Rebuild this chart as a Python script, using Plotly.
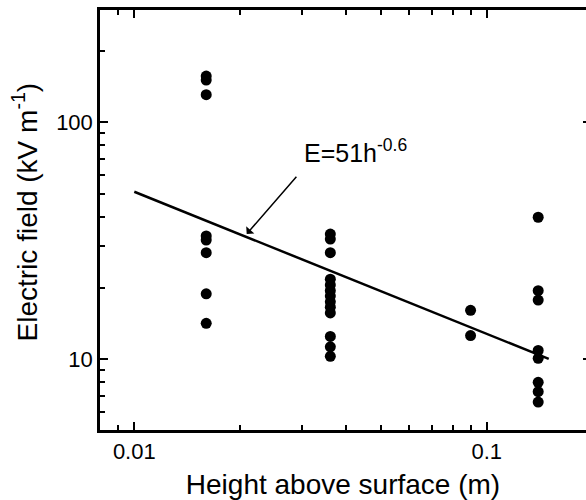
import numpy as np
import plotly.graph_objects as go

# Measured electric field at four heights above the surface
h_a = [0.016] * 8
E_a = [157, 151, 131, 33.2, 31.9, 28.2, 18.9, 14.2]
h_b = [0.036] * 13
E_b = [33.8, 32.2, 28.2, 21.8, 20.6, 19.5, 18.5, 17.5, 16.6, 15.7, 12.5, 11.3, 10.3]
h_c = [0.09] * 2
E_c = [16.1, 12.6]
h_d = [0.14] * 8
E_d = [39.8, 19.5, 17.8, 10.9, 10.1, 8.0, 7.3, 6.6]

# Power-law fit E = 51 h^-0.6 (h in cm), drawn over 0.01-0.15 m
fit_coef = 51
fit_exp = -0.6
fit_h = [0.01, 0.15]

x_ticks = [0.01, 0.1]
x_ticktext = ["0.01", "0.1"]
x_minor = [0.009] + [k / 100 for k in range(2, 10)] + [0.2]
y_ticks = [10, 100]
y_ticktext = ["10", "100"]
y_minor = [k for k in range(2, 10)] + [k * 10 for k in range(2, 10)] + [200, 300]

h_all = h_a + h_b + h_c + h_d
E_all = E_a + E_b + E_c + E_d

fit_E = [fit_coef * (100 * h) ** fit_exp for h in fit_h]

font = "Liberation Sans, Arial, sans-serif"

# Axis ranges (log10 units); the right end of the x axis runs past the page edge
x_range = [-2.0973, -0.7182]
y_range = [0.7017, 2.4748]

fig = go.Figure()
fig.add_trace(go.Scatter(
    x=fit_h, y=fit_E, mode="lines",
    line=dict(color="black", width=2.5), showlegend=False,
))
fig.add_trace(go.Scatter(
    x=h_all, y=E_all, mode="markers",
    marker=dict(color="black", size=11, line=dict(width=0)), showlegend=False,
))

tick_font = dict(family=font, size=22, color="black")
title_font = dict(family=font, size=28, color="black")

fig.update_xaxes(
    type="log", range=x_range, showgrid=False, zeroline=False,
    showline=True, linecolor="black", linewidth=2.5, mirror="ticks",
    ticks="inside", ticklen=8, tickwidth=2, tickcolor="black",
    tickfont=tick_font,
    tickmode="array", tickvals=x_ticks, ticktext=x_ticktext,
    minor=dict(tickmode="array", tickvals=x_minor, ticks="inside",
               ticklen=5, tickwidth=2, tickcolor="black"),
    title=dict(text="Height above surface (m)", font=title_font, standoff=16),
)
fig.update_yaxes(
    type="log", range=y_range, showgrid=False, zeroline=False,
    showline=True, linecolor="black", linewidth=2.5, mirror=False,
    ticks="inside", ticklen=8, tickwidth=2, tickcolor="black",
    tickfont=tick_font,
    tickmode="array", tickvals=y_ticks, ticktext=y_ticktext,
    minor=dict(tickmode="array", tickvals=y_minor, ticks="inside",
               ticklen=5, tickwidth=2, tickcolor="black"),
)

# Y-axis title, placed a little above the plot's vertical centre
fig.add_annotation(
    x=-0.1535, y=0.519, xref="paper", yref="paper",
    text="Electric field (kV m<sup>-1</sup>)", textangle=-90,
    showarrow=False, xanchor="center", yanchor="middle",
    font=title_font,
)

# Right-hand axis: only the inward major ticks reach into view
fig.update_layout(yaxis2=dict(
    type="log", range=y_range, overlaying="y", side="right", anchor="x",
    showgrid=False, zeroline=False, showline=False, showticklabels=False,
    ticks="inside", ticklen=3, tickwidth=2, tickcolor="black",
    tickmode="array", tickvals=y_ticks,
))
fig.add_trace(go.Scatter(
    x=[fit_h[0]], y=[fit_E[0]], yaxis="y2", mode="markers",
    marker=dict(opacity=0), showlegend=False, hoverinfo="skip",
))

# Label for the fit and the arrow pointing at the line
fig.add_annotation(
    x=np.log10(0.0299), y=np.log10(63.5), xref="x", yref="y",
    text="E=51h<sup>-0.6</sup>", showarrow=False,
    xanchor="left", yanchor="bottom",
    font=dict(family=font, size=25, color="black"),
)
fig.add_annotation(
    x=-1.681, y=1.5294, xref="x", yref="y",
    ax=-1.5363, ay=1.7773, axref="x", ayref="y",
    text="", showarrow=True, arrowhead=1, arrowsize=1.2,
    arrowwidth=1.5, arrowcolor="black",
)

fig.update_layout(
    width=586, height=500,
    margin=dict(l=100, r=0, t=10, b=68),
    paper_bgcolor="white", plot_bgcolor="white",
)

fig.write_html("out.html")
